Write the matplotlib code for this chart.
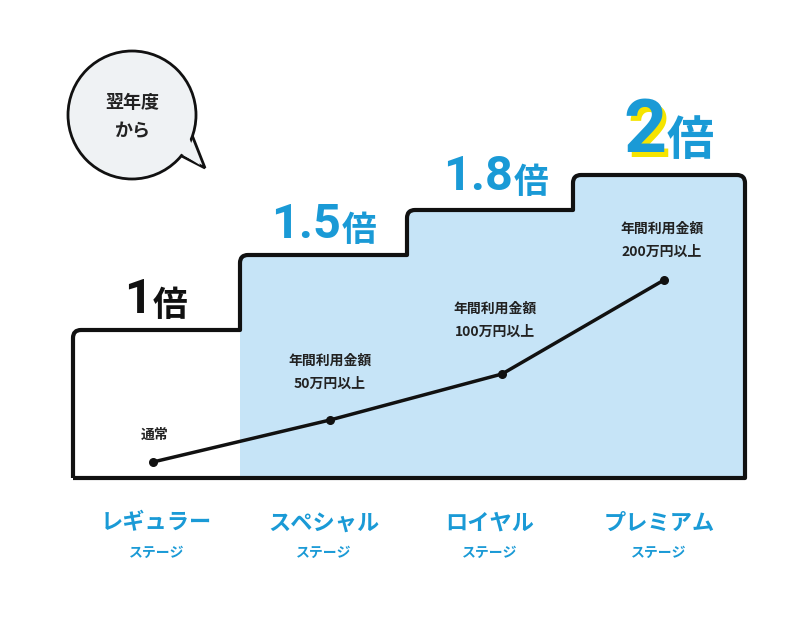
import matplotlib
matplotlib.use("Agg")
import matplotlib.pyplot as plt
from matplotlib.patches import Circle, Polygon
from matplotlib.path import Path
import matplotlib.patches as mpatches

plt.rcParams['font.family'] = ['Noto Sans CJK JP', 'DejaVu Sans']

stages = ["レギュラー", "スペシャル", "ロイヤル", "プレミアム"]
sublabel = "ステージ"
multipliers = ["1", "1.5", "1.8", "2"]
step_heights = [148, 223, 268, 303]       # height of each step above baseline
step_edges = [73, 240, 407, 573, 745]     # x edges of steps
point_x = [153, 330, 502, 664]
point_values = [16, 58, 104, 198]        # line point heights above baseline
notes = ["通常", "年間利用金額\n50万円以上", "年間利用金額\n100万円以上", "年間利用金額\n200万円以上"]

BASE = 478
BLUE = "#1a9ad6"
FILL = "#c6e4f7"

fig = plt.figure(figsize=(8, 6.17), dpi=100)
ax = fig.add_axes([0, 0, 1, 1])
ax.set_xlim(0, 800)
ax.set_ylim(617, 0)
ax.axis("off")

poly = [(step_edges[1], BASE)]
for i in range(1, 4):
    poly += [(step_edges[i], BASE - step_heights[i]), (step_edges[i + 1], BASE - step_heights[i])]
poly += [(step_edges[4], BASE)]
ax.add_patch(Polygon(poly, closed=True, facecolor=FILL, edgecolor="none", zorder=1))

r = 8
verts = [(step_edges[0], BASE), (step_edges[0], BASE - step_heights[0] + r)]
codes = [Path.MOVETO, Path.LINETO]
verts += [(step_edges[0], BASE - step_heights[0]), (step_edges[0] + r, BASE - step_heights[0])]
codes += [Path.CURVE3, Path.CURVE3]
for i in range(1, 4):
    x = step_edges[i]
    h0 = BASE - step_heights[i - 1]
    h1 = BASE - step_heights[i]
    verts += [(x, h0), (x, h1 + r), (x, h1), (x + r, h1)]
    codes += [Path.LINETO, Path.LINETO, Path.CURVE3, Path.CURVE3]
x = step_edges[4]
h = BASE - step_heights[3]
verts += [(x - r, h), (x, h), (x, h + r), (x, BASE), (step_edges[0], BASE)]
codes += [Path.LINETO, Path.CURVE3, Path.CURVE3, Path.LINETO, Path.LINETO]
ax.add_patch(mpatches.PathPatch(Path(verts, codes), facecolor="none", edgecolor="#111111",
                                lw=3, joinstyle="round", zorder=3))

py = [BASE - v for v in point_values]
ax.plot(point_x, py, color="#111111", lw=2.5, zorder=4)
ax.scatter(point_x, py, s=30, color="#111111", zorder=5)

note_y = [435, 372, 320, 240]
note_x = [155, 330, 495, 662]
for nx, ny, t in zip(note_x, note_y, notes):
    ax.text(nx, ny, t, ha="center", va="center", fontsize=10, fontweight="bold",
            linespacing=1.8, color="#222222", zorder=6)

# multipliers: join x, baseline y
joins = [(152, 313), (341, 238), (513, 190), (666, 152)]
num_sizes = [35, 35, 35, 54]
bai_sizes = [25, 25, 25, 34]
for i, (m, (jx, by)) in enumerate(zip(multipliers, joins)):
    col = "#111111" if i == 0 else BLUE
    nf = dict(ha="right", va="baseline", fontsize=num_sizes[i], fontweight="bold",
              fontfamily=["Roboto", "DejaVu Sans"])
    if i == 3:
        ax.text(jx + 5, by + 5, m, color="#f5e400", zorder=5, **nf)
    ax.text(jx, by, m, color=col, zorder=6, **nf)
    ax.text(jx + 1, by + 3, "倍", ha="left", va="baseline", fontsize=bai_sizes[i],
            fontweight="bold", color=col, zorder=6)

for xl, xr, st in zip(step_edges[:-1], step_edges[1:], stages):
    cx = (xl + xr) / 2
    ax.text(cx, 523, st, ha="center", va="center", fontsize=16, fontweight="bold", color=BLUE)
    ax.text(cx, 553, sublabel, ha="center", va="center", fontsize=10, fontweight="bold", color=BLUE)

tail = Polygon([(170, 150), (205, 168), (190, 130)], closed=True, facecolor="#eff2f4",
               edgecolor="#111111", lw=2, zorder=7)
ax.add_patch(tail)
ax.add_patch(Circle((132, 115), 64, facecolor="#eff2f4", edgecolor="#111111", lw=2, zorder=8))
ax.add_patch(Polygon([(172, 148), (200, 165), (186, 130)], closed=True, facecolor="#eff2f4",
                     edgecolor="none", zorder=9))
ax.text(132, 117, "翌年度\nから", ha="center", va="center", fontsize=13, fontweight="bold",
        linespacing=1.6, color="#222222", zorder=10)

fig.savefig("out.png", dpi=100)
